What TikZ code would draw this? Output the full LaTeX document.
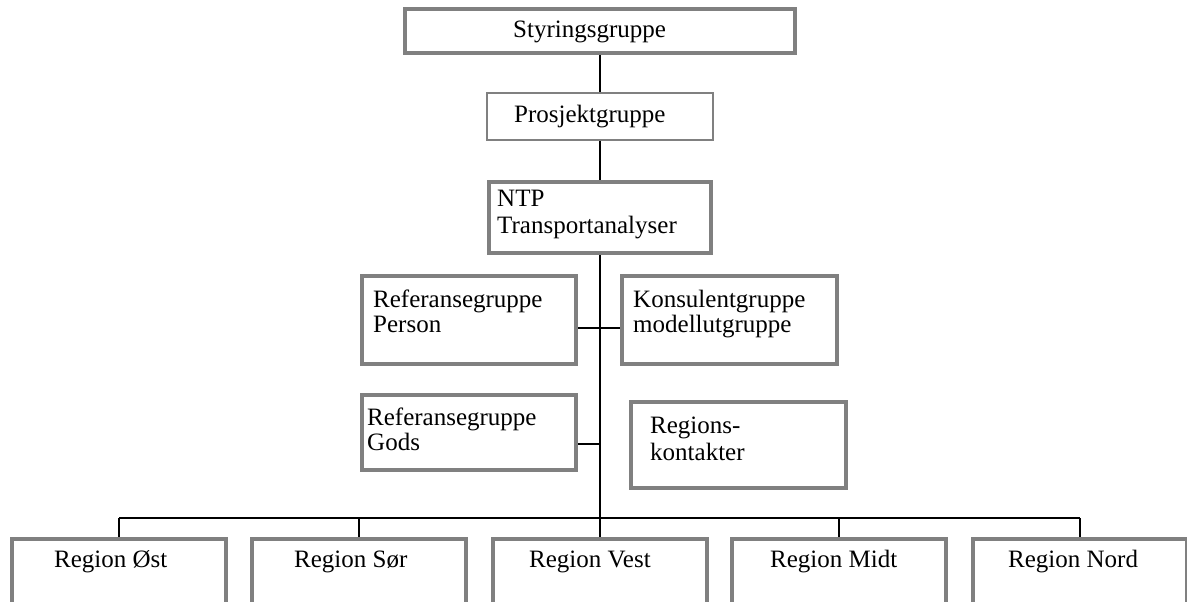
\documentclass[tikz,border=0pt]{standalone}
\usepackage{fontspec}
\setmainfont{Liberation Serif}
\definecolor{boxgray}{RGB}{128,128,128}
\begin{document}
\begin{tikzpicture}[x=1pt,y=-1pt,
  box/.style={draw=boxgray,line width=4pt,fill=white,inner sep=0pt},
  thinbox/.style={draw=boxgray,line width=1.3pt,fill=white,inner sep=0pt},
  txt/.style={inner sep=0pt,anchor=base west,align=left,font=\fontsize{25}{26}\selectfont},
  conn/.style={draw=black,line width=1.6pt}]
\useasboundingbox (0,0) rectangle (1187,602);
\begin{scope}
\clip (0,0) rectangle (1187,602);
% boxes
\node[box,minimum width=390pt,minimum height=44pt] (sty) at (600,31) {};
\node[thinbox,minimum width=226pt,minimum height=47pt] (pro) at (600,116.5) {};
\node[box,minimum width=222pt,minimum height=71pt] (ntp) at (600,217.5) {};
\node[box,minimum width=214pt,minimum height=88pt] (refp) at (469,320) {};
\node[box,minimum width=215pt,minimum height=88pt] (kons) at (729.5,320) {};
\node[box,minimum width=214pt,minimum height=75pt] (refg) at (469,432.5) {};
\node[box,minimum width=215pt,minimum height=86pt] (reg) at (738.5,445) {};
\node[box,minimum width=214pt,minimum height=111pt] (ost) at (119,594.5) {};
\node[box,minimum width=214pt,minimum height=111pt] (sor) at (359,594.5) {};
\node[box,minimum width=214pt,minimum height=111pt] (vest) at (600,594.5) {};
\node[box,minimum width=214pt,minimum height=111pt] (midt) at (839,594.5) {};
\node[box,minimum width=214pt,minimum height=111pt] (nord) at (1080,594.5) {};
% junctions
\coordinate (j1) at (600,328);
\coordinate (j2) at (600,444);
\coordinate (bus) at (600,518);
% connectors
\draw[conn] (sty.south) -- (pro.north);
\draw[conn] (pro.south) -- (ntp.north);
\draw[conn] (ntp.south) -- (bus);
\draw[conn] (refp.east |- j1) -- (kons.west |- j1);
\draw[conn] (refg.east |- j2) -- (j2);
\draw[conn] (ost.north |- bus) -- (nord.north |- bus);
\draw[conn] (ost.north |- bus) -- (ost.north);
\draw[conn] (sor.north |- bus) -- (sor.north);
\draw[conn] (bus) -- (vest.north);
\draw[conn] (midt.north |- bus) -- (midt.north);
\draw[conn] (nord.north |- bus) -- (nord.north);
% texts (base = baseline of last line)
\node[txt] (tsty) at (513,38) {Styringsgruppe};
\node[txt] (tpro) at (514,122) {Prosjektgruppe};
\node[txt,font=\fontsize{25}{27}\selectfont] (tntp) at (497,233) {NTP\\Transportanalyser};
\node[txt,font=\fontsize{25}{24.5}\selectfont] (trefp) at (373,332) {Referansegruppe\\Person};
\node[txt,font=\fontsize{25}{25}\selectfont] (tkons) at (633,332) {Konsulentgruppe\\modellutgruppe};
\node[txt,font=\fontsize{25}{25}\selectfont] (trefg) at (367,450) {Referansegruppe\\Gods};
\node[txt,font=\fontsize{25}{27}\selectfont] (treg) at (650,460) {Regions-\\kontakter};
\node[txt] (tost) at (54,567) {Region Øst};
\node[txt] (tsor) at (294,567) {Region Sør};
\node[txt] (tvest) at (529,567) {Region Vest};
\node[txt] (tmidt) at (770,567) {Region Midt};
\node[txt] (tnord) at (1008,567) {Region Nord};
\end{scope}
\end{tikzpicture}
\end{document}
